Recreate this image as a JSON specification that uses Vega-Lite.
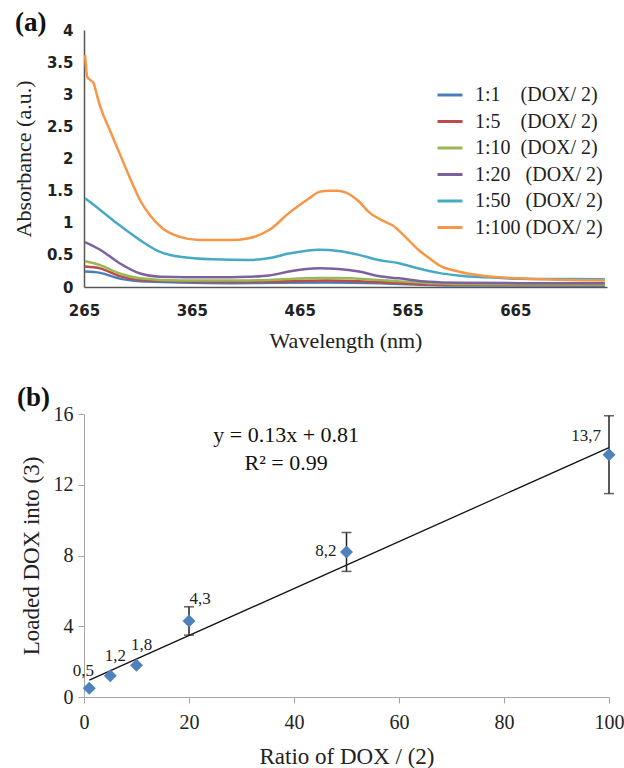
{
  "$schema": "https://vega.github.io/schema/vega-lite/v6.json",
  "background": "white",
  "padding": {"left": 12, "top": 9, "right": 10, "bottom": 5},
  "bounds": "flush",
  "spacing": 127,
  "config": {"view": {"stroke": null}},
  "datasets": {
    "spectra": [
      {"s": "1:1", "w": 266, "a": 0.24}, {"s": "1:1", "w": 280, "a": 0.22}, {"s": "1:1", "w": 298, "a": 0.13}, {"s": "1:1", "w": 317, "a": 0.09}, {"s": "1:1", "w": 354, "a": 0.07}, {"s": "1:1", "w": 400, "a": 0.06}, {"s": "1:1", "w": 490, "a": 0.07}, {"s": "1:1", "w": 540, "a": 0.06}, {"s": "1:1", "w": 600, "a": 0.025}, {"s": "1:1", "w": 748, "a": 0.02},
      {"s": "1:5", "w": 266, "a": 0.32}, {"s": "1:5", "w": 280, "a": 0.29}, {"s": "1:5", "w": 298, "a": 0.17}, {"s": "1:5", "w": 317, "a": 0.11}, {"s": "1:5", "w": 354, "a": 0.09}, {"s": "1:5", "w": 400, "a": 0.08}, {"s": "1:5", "w": 437, "a": 0.085}, {"s": "1:5", "w": 490, "a": 0.1}, {"s": "1:5", "w": 520, "a": 0.09}, {"s": "1:5", "w": 560, "a": 0.06}, {"s": "1:5", "w": 600, "a": 0.035}, {"s": "1:5", "w": 748, "a": 0.03},
      {"s": "1:10", "w": 266, "a": 0.4}, {"s": "1:10", "w": 280, "a": 0.34}, {"s": "1:10", "w": 298, "a": 0.21}, {"s": "1:10", "w": 317, "a": 0.135}, {"s": "1:10", "w": 354, "a": 0.1}, {"s": "1:10", "w": 400, "a": 0.1}, {"s": "1:10", "w": 437, "a": 0.11}, {"s": "1:10", "w": 483, "a": 0.14}, {"s": "1:10", "w": 501, "a": 0.14}, {"s": "1:10", "w": 538, "a": 0.11}, {"s": "1:10", "w": 585, "a": 0.06}, {"s": "1:10", "w": 612, "a": 0.045}, {"s": "1:10", "w": 748, "a": 0.04},
      {"s": "1:20", "w": 266, "a": 0.7}, {"s": "1:20", "w": 280, "a": 0.58}, {"s": "1:20", "w": 298, "a": 0.37}, {"s": "1:20", "w": 317, "a": 0.21}, {"s": "1:20", "w": 335, "a": 0.16}, {"s": "1:20", "w": 384, "a": 0.15}, {"s": "1:20", "w": 418, "a": 0.16}, {"s": "1:20", "w": 437, "a": 0.18}, {"s": "1:20", "w": 455, "a": 0.24}, {"s": "1:20", "w": 483, "a": 0.29}, {"s": "1:20", "w": 501, "a": 0.28}, {"s": "1:20", "w": 520, "a": 0.24}, {"s": "1:20", "w": 538, "a": 0.17}, {"s": "1:20", "w": 557, "a": 0.135}, {"s": "1:20", "w": 585, "a": 0.08}, {"s": "1:20", "w": 612, "a": 0.065}, {"s": "1:20", "w": 668, "a": 0.06}, {"s": "1:20", "w": 748, "a": 0.06},
      {"s": "1:50", "w": 266, "a": 1.38}, {"s": "1:50", "w": 280, "a": 1.2}, {"s": "1:50", "w": 298, "a": 0.96}, {"s": "1:50", "w": 317, "a": 0.73}, {"s": "1:50", "w": 335, "a": 0.55}, {"s": "1:50", "w": 354, "a": 0.47}, {"s": "1:50", "w": 384, "a": 0.43}, {"s": "1:50", "w": 418, "a": 0.42}, {"s": "1:50", "w": 437, "a": 0.45}, {"s": "1:50", "w": 455, "a": 0.52}, {"s": "1:50", "w": 483, "a": 0.58}, {"s": "1:50", "w": 501, "a": 0.56}, {"s": "1:50", "w": 520, "a": 0.5}, {"s": "1:50", "w": 538, "a": 0.42}, {"s": "1:50", "w": 557, "a": 0.37}, {"s": "1:50", "w": 575, "a": 0.29}, {"s": "1:50", "w": 585, "a": 0.25}, {"s": "1:50", "w": 594, "a": 0.22}, {"s": "1:50", "w": 612, "a": 0.18}, {"s": "1:50", "w": 637, "a": 0.15}, {"s": "1:50", "w": 668, "a": 0.13}, {"s": "1:50", "w": 698, "a": 0.125}, {"s": "1:50", "w": 748, "a": 0.12},
      {"s": "1:100", "w": 266, "a": 3.61}, {"s": "1:100", "w": 268, "a": 3.27}, {"s": "1:100", "w": 271, "a": 3.22}, {"s": "1:100", "w": 274, "a": 3.17}, {"s": "1:100", "w": 276, "a": 3.05}, {"s": "1:100", "w": 280, "a": 2.81}, {"s": "1:100", "w": 289, "a": 2.44}, {"s": "1:100", "w": 298, "a": 2.08}, {"s": "1:100", "w": 307, "a": 1.72}, {"s": "1:100", "w": 317, "a": 1.35}, {"s": "1:100", "w": 326, "a": 1.12}, {"s": "1:100", "w": 338, "a": 0.91}, {"s": "1:100", "w": 354, "a": 0.78}, {"s": "1:100", "w": 372, "a": 0.73}, {"s": "1:100", "w": 400, "a": 0.73}, {"s": "1:100", "w": 418, "a": 0.76}, {"s": "1:100", "w": 437, "a": 0.89}, {"s": "1:100", "w": 455, "a": 1.15}, {"s": "1:100", "w": 474, "a": 1.38}, {"s": "1:100", "w": 483, "a": 1.48}, {"s": "1:100", "w": 492, "a": 1.5}, {"s": "1:100", "w": 500, "a": 1.5}, {"s": "1:100", "w": 508, "a": 1.47}, {"s": "1:100", "w": 520, "a": 1.33}, {"s": "1:100", "w": 529, "a": 1.17}, {"s": "1:100", "w": 541, "a": 1.04}, {"s": "1:100", "w": 551, "a": 0.96}, {"s": "1:100", "w": 563, "a": 0.78}, {"s": "1:100", "w": 575, "a": 0.58}, {"s": "1:100", "w": 585, "a": 0.45}, {"s": "1:100", "w": 594, "a": 0.34}, {"s": "1:100", "w": 612, "a": 0.24}, {"s": "1:100", "w": 637, "a": 0.17}, {"s": "1:100", "w": 668, "a": 0.135}, {"s": "1:100", "w": 698, "a": 0.115}, {"s": "1:100", "w": 748, "a": 0.1}
    ],
    "pts": [
      {"x": 1, "y": 0.5, "label": "0,5"},
      {"x": 5, "y": 1.2, "label": "1,2"},
      {"x": 10, "y": 1.8, "label": "1,8"},
      {"x": 20, "y": 4.3, "label": "4,3"},
      {"x": 50, "y": 8.2, "label": "8,2"},
      {"x": 100, "y": 13.7, "label": "13,7"}
    ],
    "err": [
      {"x": 20, "lo": 3.5, "hi": 5.1},
      {"x": 50, "lo": 7.1, "hi": 9.3},
      {"x": 100, "lo": 11.5, "hi": 15.9}
    ],
    "fit": [{"x": 1, "y": 0.95}, {"x": 100, "y": 14.1}],
    "eq": [
      {"x": 38.5, "y": 14.8, "t": "y = 0.13x + 0.81"},
      {"x": 38.5, "y": 13.25, "t": "R² = 0.99"}
    ]
  },
  "vconcat": [
    {
      "width": 523,
      "height": 257,
      "title": {"text": "(a)", "anchor": "start", "frame": "group", "dx": -69, "offset": -14, "font": "Liberation Serif", "fontSize": 27, "fontWeight": "bold", "color": "#111"},
      "data": {"name": "spectra"},
      "mark": {"type": "line", "strokeWidth": 2.5, "interpolate": "monotone"},
      "encoding": {
        "x": {
          "field": "w", "type": "quantitative", "title": "Wavelength (nm)",
          "scale": {"domain": [265, 750], "nice": false, "zero": false},
          "axis": {"values": [265, 365, 465, 565, 665], "labelFont": "DejaVu Sans", "labelFontWeight": "bold", "labelFontSize": 15, "labelColor": "#222", "ticks": false, "tickSize": 0, "labelPadding": 16, "labelFlush": false, "domainColor": "#555", "domainWidth": 1.5, "grid": false, "titleFont": "Liberation Serif", "titleFontSize": 22, "titleFontWeight": "normal", "titleColor": "#222", "titlePadding": 12}
        },
        "y": {
          "field": "a", "type": "quantitative", "title": "Absorbance (a.u.)",
          "scale": {"domain": [0, 4], "nice": false},
          "axis": {"values": [0, 0.5, 1, 1.5, 2, 2.5, 3, 3.5, 4], "format": "~g", "labelFont": "DejaVu Sans", "labelFontWeight": "bold", "labelFontSize": 15, "labelColor": "#222", "ticks": false, "tickSize": 0, "labelPadding": 11, "labelFlush": false, "domainColor": "#555", "domainWidth": 1.5, "grid": false, "titleFont": "Liberation Serif", "titleFontSize": 22, "titleFontWeight": "normal", "titleColor": "#222", "titlePadding": 11}
        },
        "color": {
          "field": "s", "type": "nominal",
          "scale": {"domain": ["1:1", "1:5", "1:10", "1:20", "1:50", "1:100"], "range": ["#4a7ebb", "#be4b48", "#98b954", "#7d60a0", "#46aac5", "#f79646"]},
          "legend": {
            "orient": "none", "legendX": 352, "legendY": 51, "title": null, "padding": 0,
            "symbolType": "stroke", "symbolSize": 625, "symbolStrokeWidth": 3,
            "labelFont": "Liberation Serif", "labelFontSize": 20, "labelColor": "#222", "labelOffset": 11, "rowPadding": 2.5,
            "labelExpr": "datum.label == '1:1' ? '1:1\u00a0\u00a0\u00a0\u00a0(DOX/ 2)' : datum.label == '1:5' ? '1:5\u00a0\u00a0\u00a0\u00a0(DOX/ 2)' : datum.label == '1:10' ? '1:10\u00a0\u00a0(DOX/ 2)' : datum.label == '1:20' ? '1:20\u00a0\u00a0\u00a0(DOX/ 2)' : datum.label == '1:50' ? '1:50\u00a0\u00a0\u00a0(DOX/ 2)' : '1:100\u00a0(DOX/ 2)'"
          }
        }
      }
    },
    {
      "width": 525,
      "height": 283,
      "title": {"text": "(b)", "anchor": "start", "frame": "group", "dx": -67, "offset": -8, "font": "Liberation Serif", "fontSize": 27, "fontWeight": "bold", "color": "#111"},
      "encoding": {
        "x": {
          "field": "x", "type": "quantitative", "title": "Ratio of DOX / (2)",
          "scale": {"domain": [0, 100], "nice": false},
          "axis": {"values": [0, 20, 40, 60, 80, 100], "labelFont": "Liberation Serif", "labelFontSize": 20, "labelColor": "#222", "tickColor": "#a6a6a6", "domainColor": "#a6a6a6", "tickSize": 6, "labelPadding": 9, "labelFlush": false, "grid": false, "titleFont": "Liberation Serif", "titleFontSize": 23, "titleFontWeight": "normal", "titleColor": "#222", "titlePadding": 13}
        },
        "y": {
          "field": "y", "type": "quantitative", "title": "Loaded DOX into (3)",
          "scale": {"domain": [0, 16], "nice": false},
          "axis": {"values": [0, 4, 8, 12, 16], "labelFont": "Liberation Serif", "labelFontSize": 20, "labelColor": "#222", "tickColor": "#a6a6a6", "domainColor": "#a6a6a6", "tickSize": 6, "labelPadding": 5, "labelFlush": false, "grid": false, "titleFont": "Liberation Serif", "titleFontSize": 23, "titleFontWeight": "normal", "titleColor": "#222", "titlePadding": 10}
        }
      },
      "layer": [
        {"data": {"name": "fit"}, "mark": {"type": "line", "color": "#111", "strokeWidth": 1.3}, "encoding": {}},
        {"data": {"name": "err"}, "mark": {"type": "rule", "color": "#222", "strokeWidth": 1.5},
         "encoding": {"y": {"field": "lo", "type": "quantitative", "title": "Loaded DOX into (3)"}, "y2": {"field": "hi"}}},
        {"data": {"name": "err"}, "mark": {"type": "tick", "orient": "horizontal", "size": 10, "thickness": 1.5, "color": "#222"},
         "encoding": {"y": {"field": "lo", "type": "quantitative", "title": "Loaded DOX into (3)"}}},
        {"data": {"name": "err"}, "mark": {"type": "tick", "orient": "horizontal", "size": 10, "thickness": 1.5, "color": "#222"},
         "encoding": {"y": {"field": "hi", "type": "quantitative", "title": "Loaded DOX into (3)"}}},
        {"data": {"name": "pts"}, "mark": {"type": "point", "shape": "diamond", "filled": true, "size": 170, "color": "#4f81bd", "opacity": 1}, "encoding": {}},
        {"data": {"name": "pts"}, "transform": [{"filter": "indexof(['1,2','1,8'], datum.label) >= 0"}],
         "mark": {"type": "text", "font": "Liberation Serif", "fontSize": 17, "color": "#222", "dx": 5, "dy": -20},
         "encoding": {"text": {"field": "label"}}},
        {"data": {"name": "pts"}, "transform": [{"filter": "datum.label == '4,3'"}],
         "mark": {"type": "text", "font": "Liberation Serif", "fontSize": 17, "color": "#222", "dx": 11, "dy": -22},
         "encoding": {"text": {"field": "label"}}},
        {"data": {"name": "pts"}, "transform": [{"filter": "datum.label == '0,5'"}],
         "mark": {"type": "text", "font": "Liberation Serif", "fontSize": 17, "color": "#222", "dx": -6, "dy": -17},
         "encoding": {"text": {"field": "label"}}},
        {"data": {"name": "pts"}, "transform": [{"filter": "datum.label == '8,2'"}],
         "mark": {"type": "text", "font": "Liberation Serif", "fontSize": 17, "color": "#222", "align": "right", "dx": -10, "dy": -1},
         "encoding": {"text": {"field": "label"}}},
        {"data": {"name": "pts"}, "transform": [{"filter": "datum.label == '13,7'"}],
         "mark": {"type": "text", "font": "Liberation Serif", "fontSize": 17, "color": "#222", "align": "right", "dx": -8, "dy": -19},
         "encoding": {"text": {"field": "label"}}},
        {"data": {"name": "eq"}, "mark": {"type": "text", "font": "Liberation Serif", "fontSize": 22, "color": "#111"},
         "encoding": {"text": {"field": "t"}}}
      ]
    }
  ]
}
